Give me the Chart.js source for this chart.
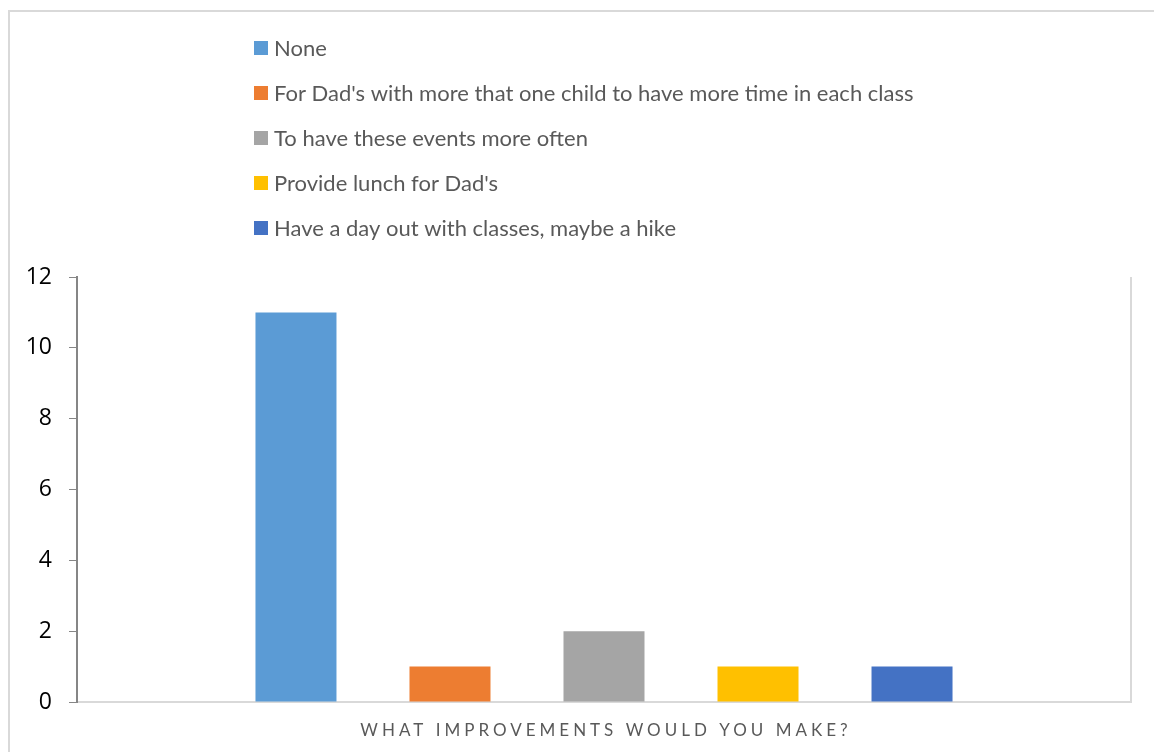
<!DOCTYPE html>
<html>
<head>
<meta charset="utf-8">
<script src="https://cdn.jsdelivr.net/npm/chart.js@4/dist/chart.umd.min.js"></script>
<style>
  html, body { margin: 0; padding: 0; background: #fff; }
  #frame {
    position: absolute; left: 8px; top: 10px; width: 1200px; height: 800px;
    border: 2px solid #d9d9d9; box-sizing: border-box;
  }
  #wrap { position: absolute; left: 0; top: 0; width: 1154px; height: 752px; }
</style>
</head>
<body>
<div id="frame"></div>
<div id="wrap"><canvas id="chart"></canvas></div>
<script>
// Survey answers — one bar per answer
const answers = [
  "None",
  "For Dad's with more that one child to have more time in each class",
  "To have these events more often",
  "Provide lunch for Dad's",
  "Have a day out with classes, maybe a hike",
];
const counts = [11, 1, 2, 1, 1];
const colors = ["#5B9BD5", "#ED7D31", "#A5A5A5", "#FFC000", "#4472C4"];
const axisTitle = "WHAT IMPROVEMENTS WOULD YOU MAKE?";
const yTicks = [0, 2, 4, 6, 8, 10, 12];

const FONT = "Lato, 'Liberation Sans', sans-serif";

// Excel-style legend: one entry per line, drawn above the plot
const stackedLegend = {
  id: "stackedLegend",
  afterDraw(chart, args, opts) {
    const { ctx } = chart;
    ctx.save();
    ctx.font = `${opts.size}px ${FONT}`;
    ctx.textBaseline = "middle";
    chart.data.datasets.forEach((ds, i) => {
      const y = opts.top + i * opts.step;
      ctx.fillStyle = ds.backgroundColor;
      ctx.fillRect(opts.left, y - 7, 14, 14);
      ctx.fillStyle = "#595959";
      ctx.fillText(ds.label, opts.left + 20, y + 1);
    });
    ctx.restore();
  },
};

// letter-spaced axis title + right edge of the plot area
const plotDecor = {
  id: "plotDecor",
  afterDraw(chart, args, opts) {
    const { ctx, chartArea } = chart;
    ctx.save();
    ctx.strokeStyle = "#d9d9d9";
    ctx.lineWidth = 2;
    ctx.beginPath();
    ctx.moveTo(chartArea.right, chartArea.top);
    ctx.lineTo(chartArea.right, chartArea.bottom);
    ctx.stroke();

    ctx.font = `${opts.size}px ${FONT}`;
    ctx.letterSpacing = opts.spacing + "px";
    ctx.fillStyle = "#595959";
    ctx.textAlign = "center";
    ctx.textBaseline = "middle";
    const cx = (chartArea.left + chartArea.right) / 2 + opts.spacing / 2;
    ctx.fillText(axisTitle, cx, opts.y);
    ctx.restore();
  },
};

new Chart(document.getElementById("chart"), {
  type: "bar",
  data: {
    labels: [axisTitle],
    datasets: answers.map((label, i) => ({
      label,
      data: [counts[i]],
      backgroundColor: colors[i],
      categoryPercentage: 0.7306,
      barPercentage: 0.526,
    })),
  },
  options: {
    responsive: true,
    maintainAspectRatio: false,
    animation: false,
    layout: { padding: { top: 277, right: 23, left: 0, bottom: 0 } },
    plugins: {
      legend: { display: false },
      tooltip: { enabled: false },
      stackedLegend: { left: 254, top: 48, step: 45, size: 22 },
      plotDecor: { y: 731, size: 17, spacing: 4 },
    },
    scales: {
      x: {
        grid: { display: false },
        border: { color: "#d9d9d9", width: 2 },
        ticks: { display: false },
        afterFit: (s) => { s.height = 50; },
      },
      y: {
        min: 0,
        max: 12,
        afterBuildTicks: (s) => { s.ticks = yTicks.map((v) => ({ value: v })); },
        grid: { drawOnChartArea: false, drawTicks: true, tickLength: 8, color: "#868686" },
        border: { color: "#868686", width: 2 },
        ticks: { color: "#000", padding: 17, font: { family: "'Open Sans', sans-serif", size: 23 } },
        afterFit: (s) => { s.width = 77; },
      },
    },
  },
  plugins: [stackedLegend, plotDecor],
});
</script>
</body>
</html>
